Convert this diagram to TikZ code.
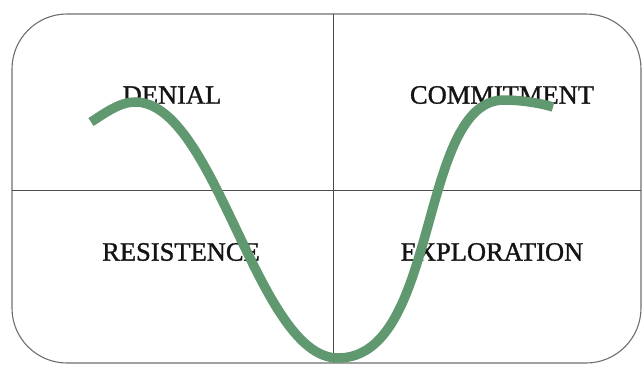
\documentclass[tikz,border=0pt]{standalone}
\usepackage{fontspec}
\setmainfont{Liberation Serif}
\newfontfamily\stagefont[FakeBold=1.2]{Liberation Serif}
\definecolor{curvegreen}{RGB}{96,152,112}
\definecolor{framegray}{RGB}{110,110,110}
\tikzset{
  frame/.style={draw=framegray, line width=1.1pt, rounded corners=55pt},
  divider/.style={draw=black!70, line width=0.9pt},
  stage/.style={font=\stagefont\fontsize{26.5}{30}\selectfont, text=black!92, inner sep=0pt},
  wave/.style={draw=curvegreen, line width=9.5pt, line cap=butt}
}
\begin{document}
\begin{tikzpicture}[x=1pt,y=-1pt]
\useasboundingbox (0,0) rectangle (643,365);
\draw[frame] (12,14) rectangle (641,363);
\draw[divider] (333,14) -- (333,363);
\draw[divider] (12,190) -- (641,190);
\node[stage] (denial) at (172,95) {DENIAL};
\node[stage] (commit) at (502,95) {COMMITMENT};
\node[stage] (resist) at (181,252) {RESISTENCE};
\node[stage] (explore) at (492,252) {EXPLORATION};
\draw[wave] (91,122) .. controls (105,113) and (120,102) .. (135,102)
  .. controls (216,102) and (257,358) .. (338,358)
  .. controls (440,358) and (418,100) .. (504,100)
  .. controls (520,100) and (540,103) .. (553,107);
\end{tikzpicture}
\end{document}
